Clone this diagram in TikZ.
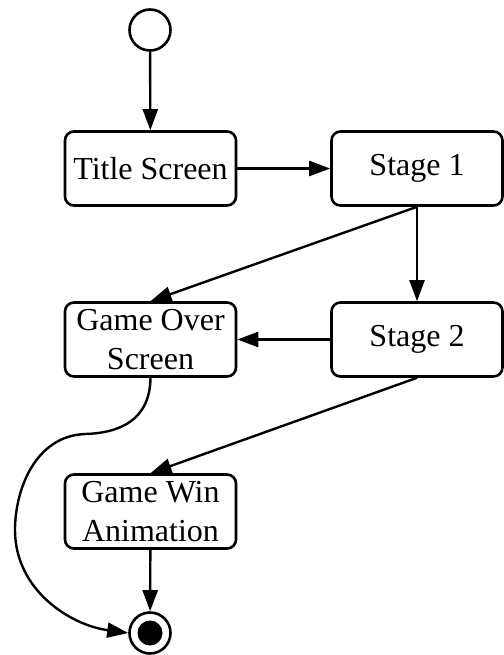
\documentclass[tikz,border=0pt]{standalone}
\usepackage{fontspec}
\setmainfont{Liberation Serif}
\usetikzlibrary{arrows.meta}
\begin{document}
\begin{tikzpicture}[x=1pt,y=-1pt,
  state/.style={draw, line width=2.6pt, rounded corners=9pt, inner sep=0pt,
    minimum width=171pt, minimum height=74pt, align=center,
    font=\fontsize{32}{39}\selectfont},
  initial/.style={circle, draw, line width=2.6pt, inner sep=0pt, minimum size=41pt},
  flow/.style={line width=2.4pt, -{Triangle[length=21pt,width=15pt]}}]
\useasboundingbox (0,0) rectangle (503,655);
\node[initial] (start) at (150,30) {};
\node[state] (title) at (150.5,168.5) {Title Screen};
\node[state] (s1) at (417,168.5) {Stage 1};
\node[state] (go) at (150.5,339.5) {Game Over\\Screen};
\node[state] (s2) at (417,339.5) {Stage 2};
\node[state] (gw) at (150.5,511.5) {Game Win\\Animation};
\node[initial] (end) at (150,633) {};
\fill (end.center) circle (12.5pt);
\draw[flow] (start) -- (title);
\draw[flow] (title) -- (s1);
\draw[flow] (s1.south) -- (go.north);
\draw[flow] (s1) -- (s2);
\draw[flow] (s2) -- (go);
\draw[flow] (s2.south) -- (gw.north);
\draw[flow] (gw) -- (end);
\draw[flow] (go.south) .. controls (150,420) and (120,433) .. (85,434)
  .. controls (35,436) and (15,490) .. (15,530)
  .. controls (15,590) and (70,625) .. (end.west);
\end{tikzpicture}
\end{document}
